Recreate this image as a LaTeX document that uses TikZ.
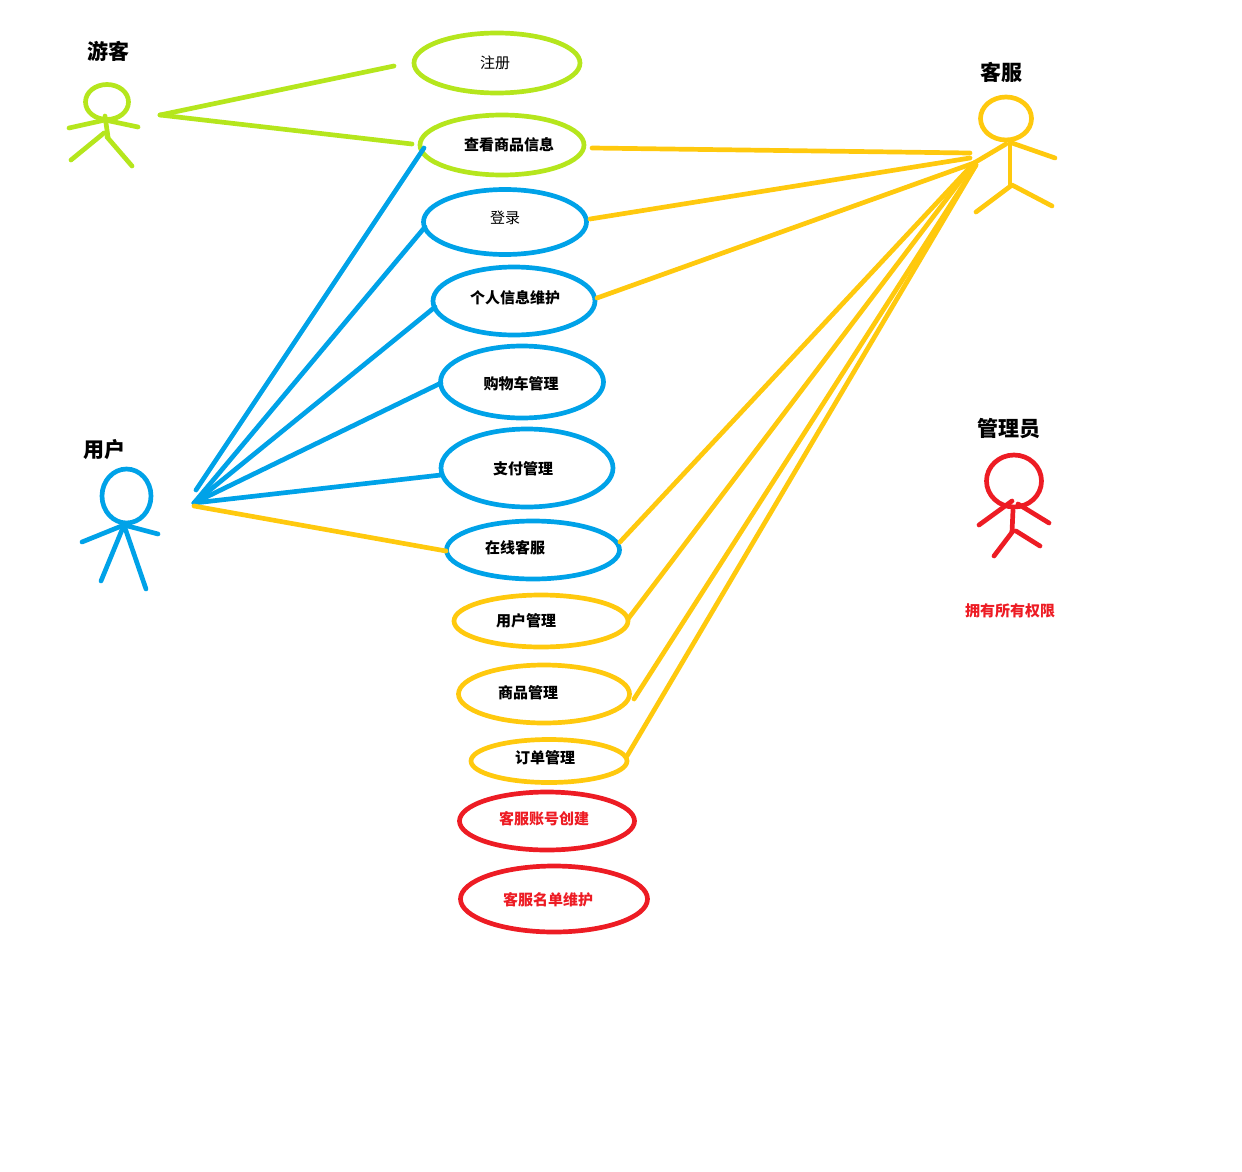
\documentclass[tikz,border=0pt]{standalone}
\usepackage{fontspec}
\usetikzlibrary{shapes.geometric}
\newfontfamily\cjk{Noto Sans CJK SC}
\definecolor{cg}{RGB}{181,230,29}
\definecolor{cb}{RGB}{0,162,232}
\definecolor{cy}{RGB}{255,201,14}
\definecolor{cr}{RGB}{237,28,36}
\tikzset{
 x=1pt,y=-1pt,
 stroke/.style={line width=4.7pt,line cap=round,line join=round},
 uc/.style={stroke,ellipse,inner sep=0pt},
 lab/.style={font=\cjk\fontsize{15}{15}\selectfont,text=black,inner sep=0pt},
 blab/.style={font=\cjk\bfseries\fontsize{15}{15}\selectfont,text=black,inner sep=0pt},
 actor/.style={font=\cjk\bfseries\fontsize{21}{21}\selectfont,text=black,inner sep=0pt},
}
\begin{document}
\begin{tikzpicture}
\useasboundingbox (0,0) rectangle (1242,1172);
% use cases
\node[uc,draw=cg,minimum width=166pt,minimum height=60pt] (e1) at (497,63) {};
\node[uc,draw=cg,minimum width=164pt,minimum height=60pt] (e2) at (502,145) {};
\node[uc,draw=cb,minimum width=163pt,minimum height=65pt] (e3) at (505,222) {};
\node[uc,draw=cb,minimum width=162pt,minimum height=68pt] (e4) at (514,301) {};
\node[uc,draw=cb,minimum width=163pt,minimum height=72pt] (e5) at (522,382) {};
\node[uc,draw=cb,minimum width=172pt,minimum height=78pt] (e6) at (527,468) {};
\node[uc,draw=cb,minimum width=173pt,minimum height=58pt] (e7) at (533,550) {};
\node[uc,draw=cy,minimum width=174pt,minimum height=52pt] (e8) at (541,621) {};
\node[uc,draw=cy,minimum width=171pt,minimum height=58pt] (e9) at (544,694) {};
\node[uc,draw=cy,minimum width=156pt,minimum height=43pt] (e10) at (549,761) {};
\node[uc,draw=cr,minimum width=175pt,minimum height=58pt] (e11) at (547,821) {};
\node[uc,draw=cr,minimum width=187pt,minimum height=66pt] (e12) at (554,899) {};
% labels
\node[lab] (t1) at (495,62.7) {注册};
\node[blab] (t2) at (509,144.7) {查看商品信息};
\node[lab] (t3) at (505,217.7) {登录};
\node[blab] (t4) at (515,297.7) {个人信息维护};
\node[blab] (t5) at (521,383.7) {购物车管理};
\node[blab] (t6) at (523,468.7) {支付管理};
\node[blab] (t7) at (515,547.7) {在线客服};
\node[blab] (t8) at (526,620.7) {用户管理};
\node[blab] (t9) at (528,692.7) {商品管理};
\node[blab] (t10) at (545,757.7) {订单管理};
\node[blab,text=cr] (t11) at (544,818.7) {客服账号创建};
\node[blab,text=cr] (t12) at (548,899.7) {客服名单维护};
\node[blab,text=cr] (t13) at (1010,610.7) {拥有所有权限};
\node[actor] (a1) at (108,51.5) {游客};
\node[actor] (a2) at (104,450) {用户};
\node[actor] (a3) at (1001,72) {客服};
\node[actor] (a4) at (1008.5,429) {管理员};
% free ends
\coordinate (hg) at (160,115);
\coordinate (hb) at (194,503);
\coordinate (hbb) at (194,506);
\coordinate (hbt) at (196,490);
\coordinate (hy) at (974,163);
\coordinate (hy2) at (976,165);
\coordinate (hy3) at (970,153);
\coordinate (hy4) at (970,158);
\coordinate (g1) at (394,66);
\coordinate (g2) at (412,144);
\coordinate (b1) at (424,148);
\coordinate (b2) at (425,227);
\coordinate (b3) at (435,307);
\coordinate (b4) at (441,383);
\coordinate (b5) at (441,475);
\coordinate (b6) at (446,551);
\coordinate (y1) at (592,148);
\coordinate (y2) at (590,219);
\coordinate (y3) at (597,298);
\coordinate (y4) at (620,542);
\coordinate (y5) at (628,619);
\coordinate (y6) at (634,699);
\coordinate (y7) at (627,756);
% connectors
\draw[stroke,cg] (hg) -- (g1);
\draw[stroke,cg] (hg) -- (g2);
\draw[stroke,cb] (hbt) -- (b1);
\draw[stroke,cb] (hb) -- (b2);
\draw[stroke,cb] (hb) -- (b3);
\draw[stroke,cb] (hb) -- (b4);
\draw[stroke,cb] (hb) -- (b5);
\draw[stroke,cy] (hbb) -- (b6);
\draw[stroke,cy] (y1) -- (hy3);
\draw[stroke,cy] (y2) -- (hy4);
\draw[stroke,cy] (y3) -- (hy);
\draw[stroke,cy] (y4) -- (hy);
\draw[stroke,cy] (y5) -- (hy);
\draw[stroke,cy] (y6) -- (hy2);
\draw[stroke,cy] (y7) -- (hy2);
% green actor
\draw[stroke,cg] (107,102) ellipse (21.5 and 17.5);
\draw[stroke,cg] (105,116) -- (108,137);
\draw[stroke,cg] (69,128) -- (105,120) -- (138,127);
\draw[stroke,cg] (71,160) -- (104,133);
\draw[stroke,cg] (107,137) -- (132,166);
% blue actor
\draw[stroke,cb] (126.5,496) ellipse (24.5 and 27);
\draw[stroke,cb] (82,542) -- (124,525) -- (158,534);
\draw[stroke,cb] (101,581) -- (124,525) -- (146,589);
% yellow actor
\draw[stroke,cy] (1006,118.5) ellipse (25.5 and 21.5);
\draw[stroke,cy] (974,163) -- (1006,144);
\draw[stroke,cy] (1012,143) -- (1055,158);
\draw[stroke,cy] (1010,143) -- (1010,184);
\draw[stroke,cy] (976,212) -- (1012,185) -- (1052,206);
% red actor
\draw[stroke,cr] (1014,481) ellipse (27.5 and 26);
\draw[stroke,cr] (979,525) -- (1012,501);
\draw[stroke,cr] (1018,504) -- (1049,523);
\draw[stroke,cr] (1013,510) -- (1012,532);
\draw[stroke,cr] (994,556) -- (1013,531);
\draw[stroke,cr] (1016,531) -- (1040,546);
\end{tikzpicture}
\end{document}
